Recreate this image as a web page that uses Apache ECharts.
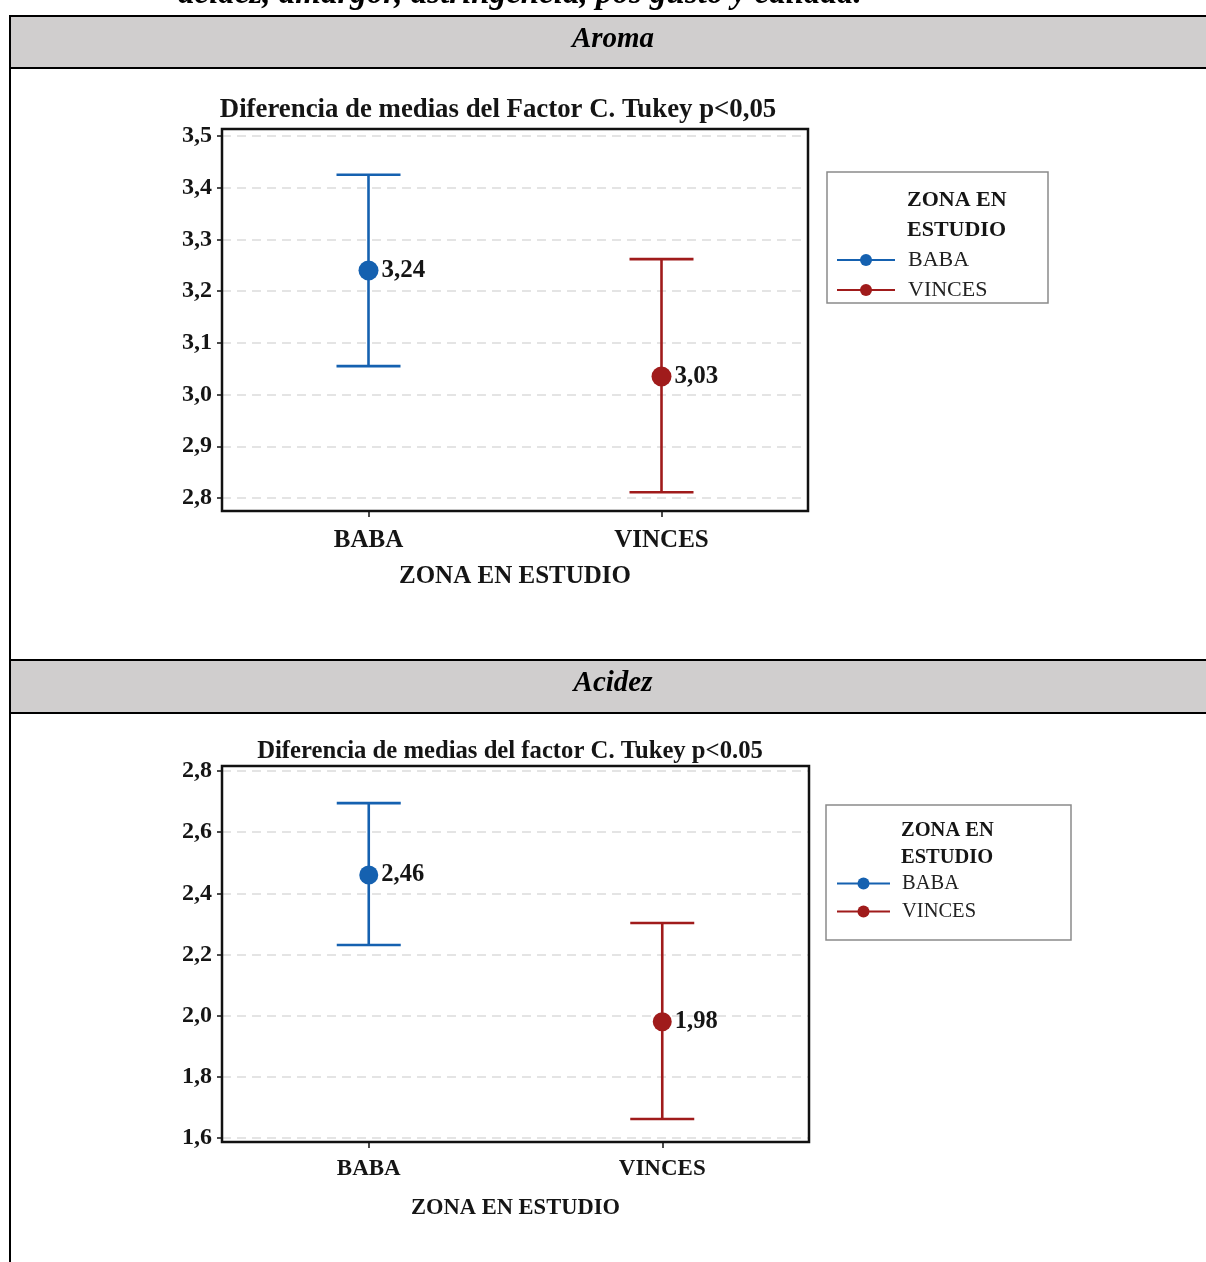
<!DOCTYPE html>
<html>
<head>
<meta charset="utf-8">
<script src="https://cdn.jsdelivr.net/npm/echarts@6/dist/echarts.min.js"></script>
<style>
html,body{margin:0;padding:0;background:#fff;}
#chart{width:1206px;height:1262px;}
</style>
</head>
<body>
<div id="chart"></div>
<script>
// ---- data ----
const categories = ['BABA', 'VINCES'];
const seriesNames = ['BABA', 'VINCES'];

const aromaMean = [3.24, 3.035];
const aromaLow = [3.055, 2.811];
const aromaHigh = [3.425, 3.262];
const aromaLabels = ['3,24', '3,03'];
const aromaAxis = [2.8, 3.5, 0.1]; // min, max, interval

const acidezMean = [2.46, 1.98];
const acidezLow = [2.231, 1.662];
const acidezHigh = [2.695, 2.303];
const acidezLabels = ['2,46', '1,98'];
const acidezAxis = [1.6, 2.8, 0.2];

const titleAroma = 'Diferencia de medias del Factor C. Tukey p<0,05';
const titleAcidez = 'Diferencia de medias del factor C. Tukey p<0.05';
const axisName = 'ZONA EN ESTUDIO';
const legendTitle = ['ZONA EN', 'ESTUDIO'];
const sectionNames = ['Aroma', 'Acidez'];
const caption = 'acidez, amargor, astringencia, pos gusto y calidad.';

// ---- styling ----
const FONT = '"Liberation Serif", "Times New Roman", serif';
const colors = ['#1561b0', '#a01b1b'];

const chart = echarts.init(document.getElementById('chart'), null, {renderer: 'canvas'});

function errRender(capHalf, lw) {
  return function (params, api) {
    const i = api.value(0);
    const lo = api.coord([i, api.value(1)]);
    const hi = api.coord([i, api.value(2)]);
    const style = {stroke: colors[params.dataIndex], lineWidth: lw, fill: null};
    return {
      type: 'group',
      children: [
        {type: 'line', shape: {x1: lo[0], y1: lo[1], x2: hi[0], y2: hi[1]}, style: style},
        {type: 'line', shape: {x1: lo[0] - capHalf, y1: lo[1], x2: lo[0] + capHalf, y2: lo[1]}, style: style},
        {type: 'line', shape: {x1: hi[0] - capHalf, y1: hi[1], x2: hi[0] + capHalf, y2: hi[1]}, style: style}
      ]
    };
  };
}

function dotSeries(k, axisIdx, mean, labels, size, fontSize) {
  return {
    type: 'line',
    name: seriesNames[k],
    xAxisIndex: axisIdx,
    yAxisIndex: axisIdx,
    z: 4,
    data: categories.map((c, i) => (i === k ? mean[i] : '-')),
    symbol: 'circle',
    symbolSize: size,
    showSymbol: true,
    itemStyle: {color: colors[k]},
    lineStyle: {color: colors[k], width: 3},
    label: {
      show: true,
      position: 'right',
      distance: 3,
      formatter: p => labels[p.dataIndex],
      fontFamily: FONT,
      fontWeight: 'bold',
      fontSize: fontSize,
      color: '#151515'
    },
    emphasis: {disabled: true},
    animation: false
  };
}

function errSeries(axisIdx, low, high, capHalf) {
  return {
    type: 'custom',
    name: 'err' + axisIdx,
    xAxisIndex: axisIdx,
    yAxisIndex: axisIdx,
    z: 3,
    renderItem: errRender(capHalf, 2.6),
    encode: {x: 0, y: [1, 2]},
    data: categories.map((c, i) => [i, low[i], high[i]]),
    animation: false,
    silent: true
  };
}

function yAxisDef(idx, ax, fontSize) {
  return {
    type: 'value',
    gridIndex: idx,
    min: ax[0],
    max: ax[1],
    interval: ax[2],
    axisLine: {show: false},
    axisTick: {show: true, inside: false, length: 5, lineStyle: {color: '#111', width: 1.5}},
    axisLabel: {
      margin: 10,
      fontFamily: FONT,
      fontWeight: 'bold',
      fontSize: fontSize,
      color: '#151515',
      formatter: v => v.toFixed(1).replace('.', ',')
    },
    splitLine: {show: true, lineStyle: {color: '#dcdcdc', width: 1.6, type: [9, 6]}}
  };
}

function xAxisDef(idx, offset, labelSize, nameSize, labelMargin, nameGap) {
  return {
    type: 'category',
    gridIndex: idx,
    data: categories,
    offset: offset,
    axisLine: {show: false},
    axisTick: {show: true, alignWithLabel: true, length: 6, lineStyle: {color: '#111', width: 1.5}},
    axisLabel: {
      margin: labelMargin,
      fontFamily: FONT,
      fontWeight: 'bold',
      fontSize: labelSize,
      color: '#151515'
    },
    splitLine: {show: false},
    name: axisName,
    nameLocation: 'middle',
    nameGap: nameGap,
    nameTextStyle: {fontFamily: FONT, fontWeight: 'bold', fontSize: nameSize, color: '#151515'}
  };
}

function legendDef(left, top, itemWidth, fontSize, gap, textPad) {
  return {
    data: seriesNames,
    orient: 'vertical',
    left: left,
    top: top,
    padding: 0,
    itemWidth: itemWidth,
    itemHeight: 15,
    itemGap: gap,
    selectedMode: false,
    textStyle: {fontFamily: FONT, fontSize: fontSize, color: '#222', lineHeight: fontSize, padding: [0, 0, 0, textPad]}
  };
}

const graphics = [
  // table structure
  {type: 'rect', z: -10, shape: {x: 10, y: 16, width: 1200, height: 52}, style: {fill: '#d0cece'}},
  {type: 'rect', z: -10, shape: {x: 10, y: 660, width: 1200, height: 53}, style: {fill: '#d0cece'}},
  {type: 'line', z: -5, shape: {x1: 9, y1: 16, x2: 1206, y2: 16}, style: {stroke: '#000', lineWidth: 2}},
  {type: 'line', z: -5, shape: {x1: 9, y1: 68, x2: 1206, y2: 68}, style: {stroke: '#000', lineWidth: 2}},
  {type: 'line', z: -5, shape: {x1: 9, y1: 660, x2: 1206, y2: 660}, style: {stroke: '#000', lineWidth: 2}},
  {type: 'line', z: -5, shape: {x1: 9, y1: 713, x2: 1206, y2: 713}, style: {stroke: '#000', lineWidth: 2}},
  {type: 'line', z: -5, shape: {x1: 10, y1: 15, x2: 10, y2: 1262}, style: {stroke: '#000', lineWidth: 2}},
  // caption (cut at top)
  {type: 'text', z: 10, style: {text: caption, x: 178, y: -6, verticalAlign: 'middle',
    font: 'italic bold 33px ' + FONT, fill: '#000'}},
  // section headers
  {type: 'text', z: 10, style: {text: sectionNames[0], x: 613, y: 40, align: 'center', verticalAlign: 'middle',
    font: 'italic bold 29px ' + FONT, fill: '#000'}},
  {type: 'text', z: 10, style: {text: sectionNames[1], x: 613, y: 684, align: 'center', verticalAlign: 'middle',
    font: 'italic bold 29px ' + FONT, fill: '#000'}},
  // chart titles
  {type: 'text', z: 10, style: {text: titleAroma, x: 498, y: 110, align: 'center', verticalAlign: 'middle',
    font: 'bold 26.8px ' + FONT, fill: '#151515'}},
  {type: 'text', z: 10, style: {text: titleAcidez, x: 510, y: 752, align: 'center', verticalAlign: 'middle',
    font: 'bold 24.7px ' + FONT, fill: '#151515'}},
  // plot frames
  {type: 'rect', z: 20, shape: {x: 222, y: 129, width: 586, height: 382}, style: {fill: null, stroke: '#111', lineWidth: 2.5}},
  {type: 'rect', z: 20, shape: {x: 222, y: 766, width: 587, height: 376}, style: {fill: null, stroke: '#111', lineWidth: 2.5}},
  // legend boxes
  {type: 'rect', z: 1, shape: {x: 827, y: 172, width: 221, height: 131}, style: {fill: null, stroke: '#8a8a8a', lineWidth: 1.5}},
  {type: 'rect', z: 1, shape: {x: 826, y: 805, width: 245, height: 135}, style: {fill: null, stroke: '#8a8a8a', lineWidth: 1.5}},
  // legend titles
  {type: 'text', z: 10, style: {text: legendTitle[0], x: 907, y: 200, verticalAlign: 'middle', font: 'bold 22px ' + FONT, fill: '#151515'}},
  {type: 'text', z: 10, style: {text: legendTitle[1], x: 907, y: 230, verticalAlign: 'middle', font: 'bold 22px ' + FONT, fill: '#151515'}},
  {type: 'text', z: 10, style: {text: legendTitle[0], x: 901, y: 831, verticalAlign: 'middle', font: 'bold 20.5px ' + FONT, fill: '#151515'}},
  {type: 'text', z: 10, style: {text: legendTitle[1], x: 901, y: 858, verticalAlign: 'middle', font: 'bold 20.5px ' + FONT, fill: '#151515'}}
];

const option = {
  backgroundColor: '#ffffff',
  animation: false,
  grid: [
    {left: 222, top: 136, width: 586, height: 362, containLabel: false},
    {left: 222, top: 771, width: 587, height: 367, containLabel: false}
  ],
  xAxis: [
    xAxisDef(0, 13, 25, 25, 17, 53),
    xAxisDef(1, 4, 23, 22.5, 16, 55)
  ],
  yAxis: [
    yAxisDef(0, aromaAxis, 24),
    yAxisDef(1, acidezAxis, 24)
  ],
  legend: [
    legendDef(836, 249, 58, 22, 8, 8),
    legendDef(836, 873, 53, 20.5, 7, 7)
  ],
  graphic: graphics,
  series: [
    errSeries(0, aromaLow, aromaHigh, 32),
    dotSeries(0, 0, aromaMean, aromaLabels, 20, 25),
    dotSeries(1, 0, aromaMean, aromaLabels, 20, 25),
    errSeries(1, acidezLow, acidezHigh, 32),
    dotSeries(0, 1, acidezMean, acidezLabels, 19, 24.5),
    dotSeries(1, 1, acidezMean, acidezLabels, 19, 24.5)
  ]
};

chart.setOption(option);
</script>
</body>
</html>
